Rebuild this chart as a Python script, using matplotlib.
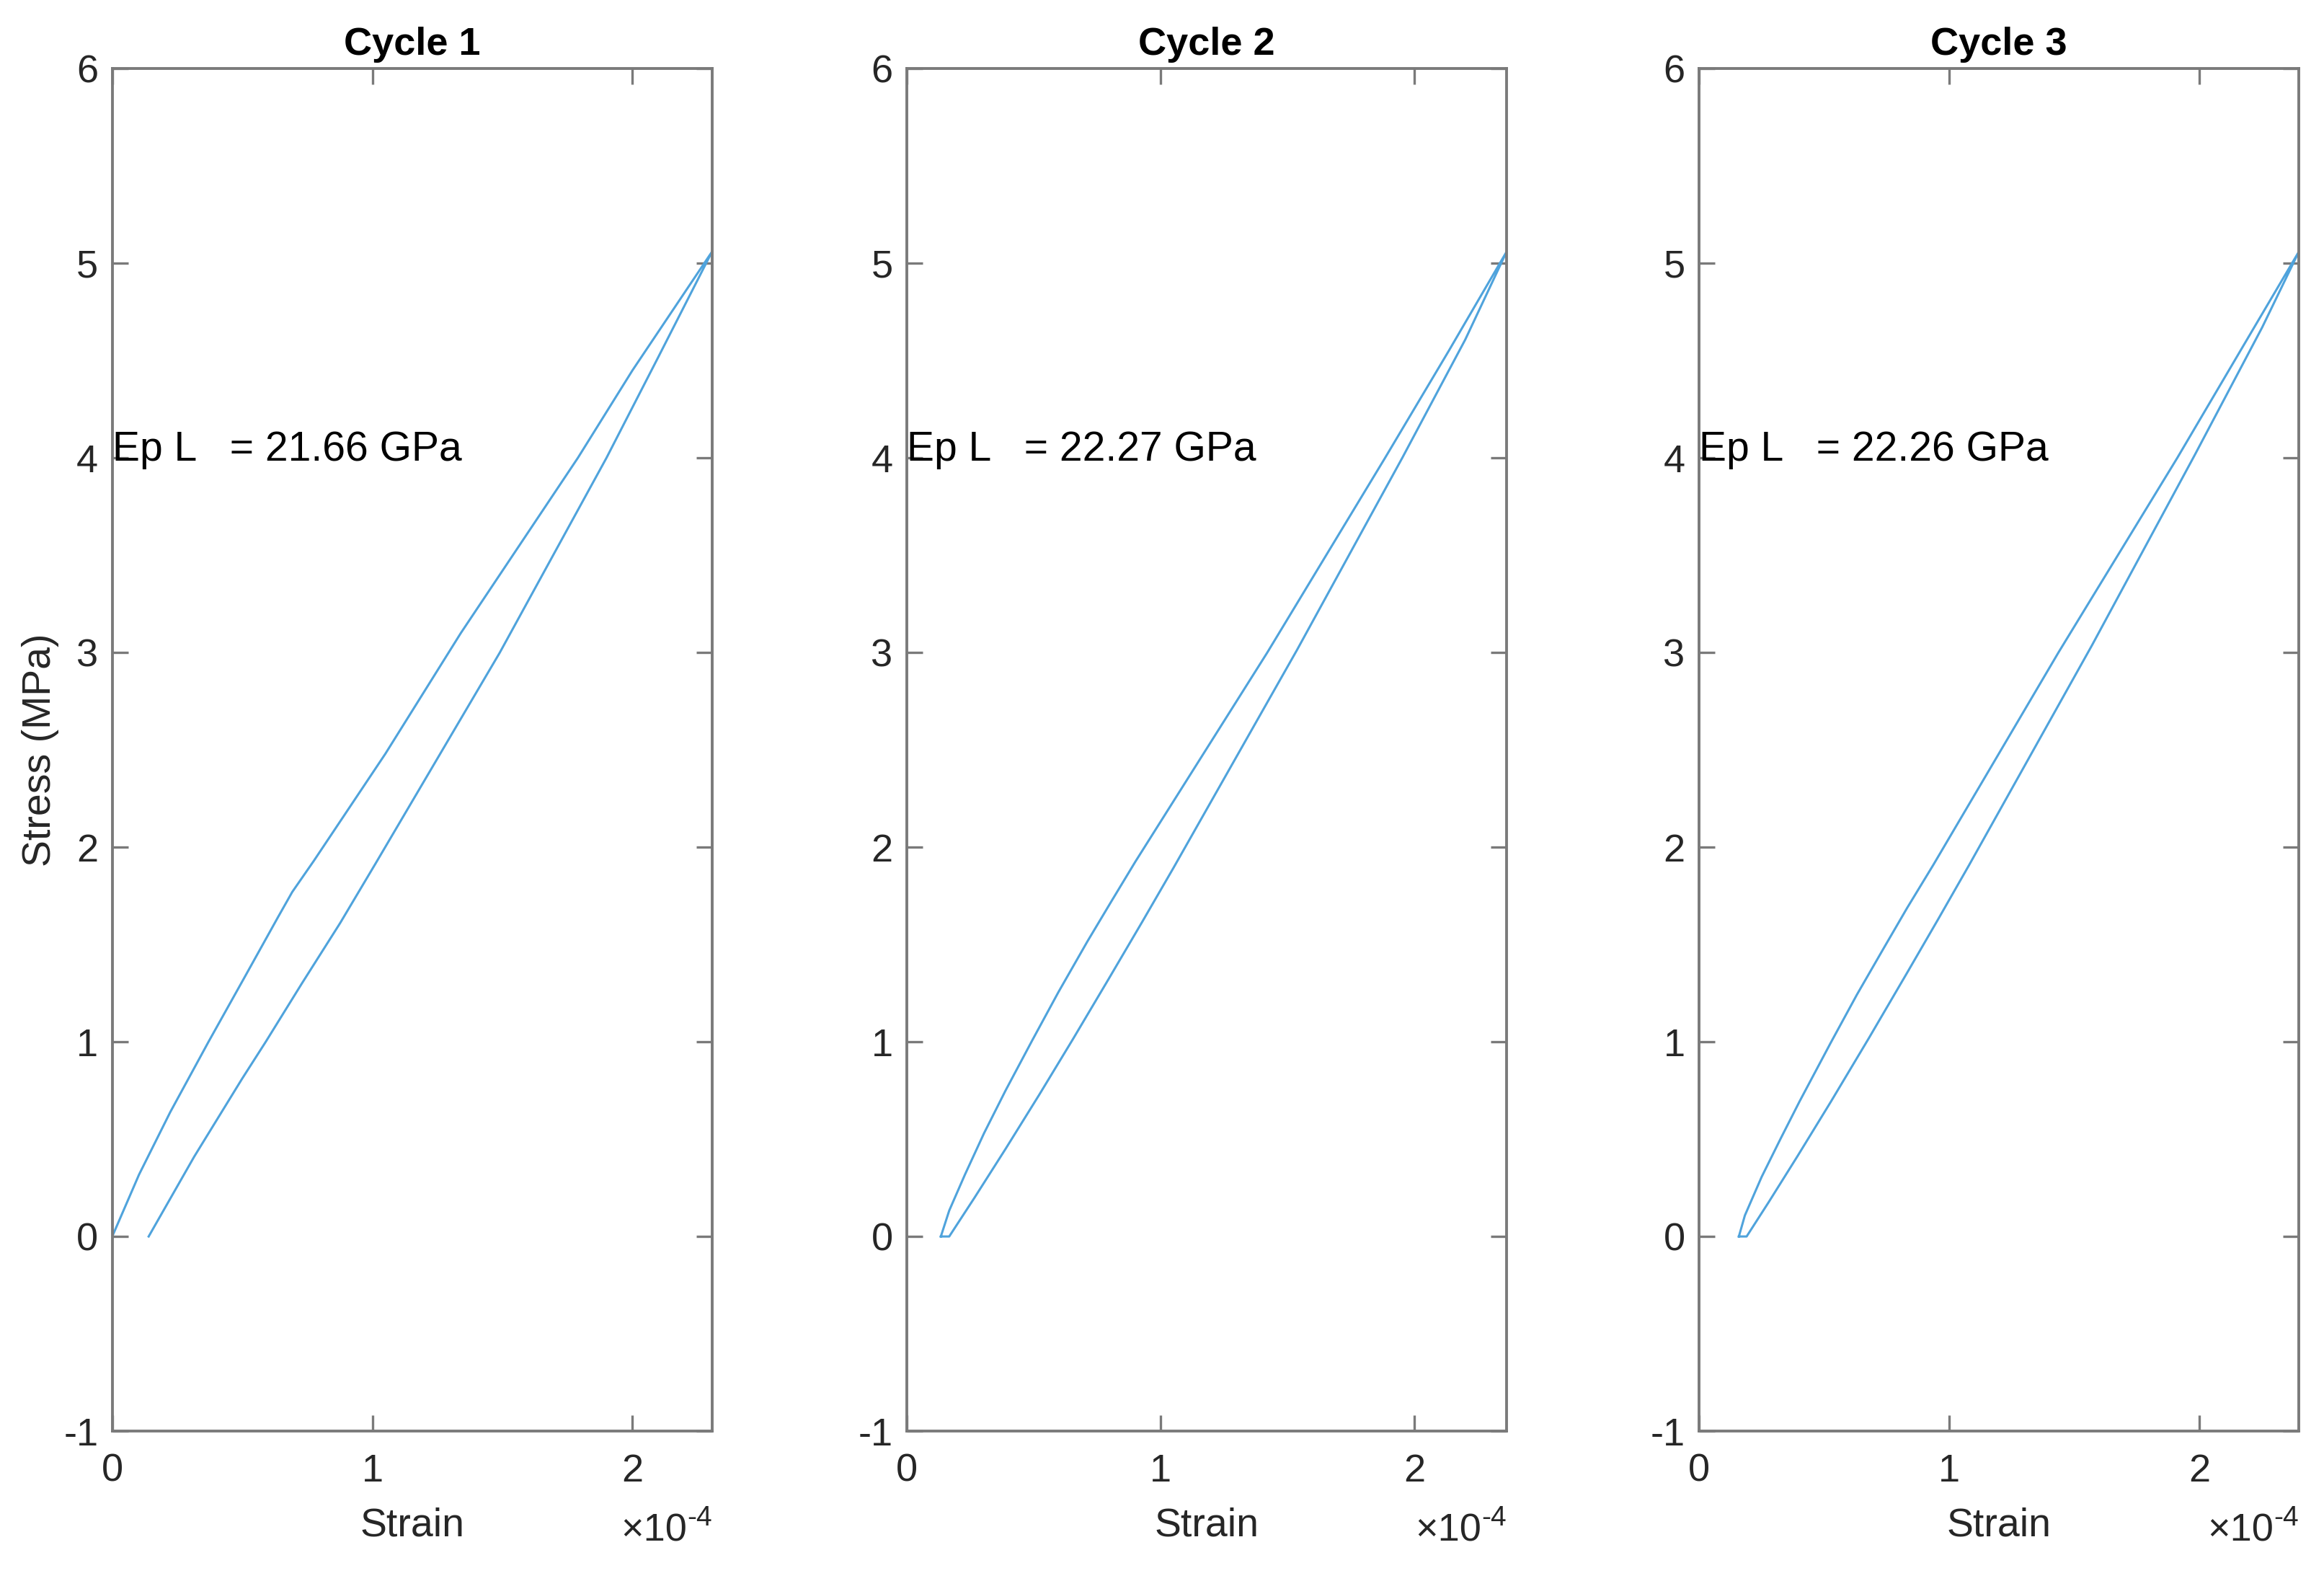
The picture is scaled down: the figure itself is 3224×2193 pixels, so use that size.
import numpy as np
import matplotlib.pyplot as plt
from matplotlib.ticker import FuncFormatter

plt.rcParams['font.family'] = ['Liberation Sans', 'DejaVu Sans']
plt.rcParams['axes.unicode_minus'] = False

SCALE = 1e-4  # strain values below are in units of 1e-4

titles = ['Cycle 1', 'Cycle 2', 'Cycle 3']
moduli = [21.66, 22.27, 22.26]

# cycle 1
c1_load_strain = [0, 0.103, 0.223, 0.37, 0.508, 0.637, 0.692, 0.775, 1.05, 1.34, 1.79, 2.0, 2.306]
c1_load_stress = [0, 0.318, 0.639, 1.0, 1.33, 1.64, 1.77, 1.93, 2.48, 3.10, 4.0, 4.45, 5.06]
c1_unload_strain = [2.306, 2.10, 1.90, 1.49, 1.014, 0.876, 0.729, 0.59, 0.499, 0.315, 0.14]
c1_unload_stress = [5.06, 4.52, 4.0, 3.0, 1.92, 1.61, 1.30, 1.0, 0.81, 0.41, 0.0]

# cycle 2
c2_load_strain = [0.134, 0.167, 0.229, 0.304, 0.389, 0.493, 0.597, 0.711, 0.805, 0.90, 1.42, 1.884, 2.135, 2.363]
c2_load_stress = [0.0, 0.133, 0.318, 0.53, 0.75, 1.005, 1.255, 1.515, 1.72, 1.925, 3.0, 4.0, 4.55, 5.06]
c2_unload_strain = [2.363, 2.20, 1.953, 1.537, 1.051, 0.928, 0.796, 0.654, 0.522, 0.389, 0.267, 0.167, 0.134]
c2_unload_stress = [5.06, 4.608, 4.003, 3.013, 1.895, 1.618, 1.325, 1.013, 0.729, 0.45, 0.20, 0.0, 0.0]

# cycle 3
c3_load_strain = [0.159, 0.183, 0.25, 0.326, 0.402, 0.526, 0.631, 0.736, 0.831, 0.936, 1.436, 1.911, 2.163, 2.397]
c3_load_stress = [0.0, 0.108, 0.306, 0.503, 0.695, 0.995, 1.243, 1.477, 1.687, 1.909, 3.0, 4.0, 4.55, 5.06]
c3_unload_strain = [2.397, 2.25, 1.98, 1.57, 1.079, 0.955, 0.831, 0.679, 0.526, 0.393, 0.278, 0.19, 0.159]
c3_unload_stress = [5.06, 4.67, 4.013, 3.037, 1.908, 1.629, 1.354, 1.02, 0.691, 0.412, 0.176, 0.0, 0.0]

cycles = [
    (c1_load_strain, c1_load_stress, c1_unload_strain, c1_unload_stress),
    (c2_load_strain, c2_load_stress, c2_unload_strain, c2_unload_stress),
    (c3_load_strain, c3_load_stress, c3_unload_strain, c3_unload_stress),
]

line_color = '#4FA3DC'
frame_color = '#7a7a7a'
text_color = '#262626'

fig = plt.figure(figsize=(16.12, 10.965), dpi=200)
lefts = [0.0483, 0.3902, 0.7311]

for i, (lx, ly, ux, uy) in enumerate(cycles):
    ax = fig.add_axes([lefts[i], 0.0948, 0.2581, 0.8618])
    strain = np.concatenate([lx, ux]) * SCALE
    stress = np.concatenate([ly, uy])
    ax.plot(strain, stress, color=line_color, linewidth=1.1)

    ax.set_xlim(0, strain.max())
    ax.set_ylim(-1, 6)
    ax.set_xticks([0, 1 * SCALE, 2 * SCALE])
    ax.xaxis.set_major_formatter(FuncFormatter(lambda v, _: f'{v / SCALE:g}'))
    ax.set_yticks(range(-1, 7))

    ax.tick_params(direction='in', top=True, right=True, length=8, width=1.2,
                   color=frame_color, labelcolor=text_color, labelsize=19.5)
    ax.tick_params(axis='x', pad=11)
    ax.tick_params(axis='y', pad=7)
    for sp in ax.spines.values():
        sp.set_color(frame_color)
        sp.set_linewidth(1.4)

    ax.set_title(titles[i], fontsize=19.5, fontweight='bold', color='black', pad=7)
    ax.text(0, 4.04, f'Ep L   = {moduli[i]:.2f} GPa', fontsize=20.5, color='black',
            ha='left', va='center')

    ax.set_xlabel('Strain', fontsize=20, color=text_color)
    ax.xaxis.set_label_coords(0.5, -0.056)

    sup = ax.text(1.0, -0.0693, '-4', transform=ax.transAxes, fontsize=14,
                  color=text_color, ha='right', va='baseline')
    ax.annotate('\u00d710', xy=(0, 0), xycoords=sup, xytext=(0, -5),
                textcoords='offset points', fontsize=19.5, color=text_color,
                ha='right', va='baseline')

    if i == 0:
        ax.set_ylabel('Stress (MPa)', fontsize=20, color=text_color)
        ax.yaxis.set_label_coords(-0.089, 0.5)

fig.savefig('out.png', dpi=200, facecolor='white')
